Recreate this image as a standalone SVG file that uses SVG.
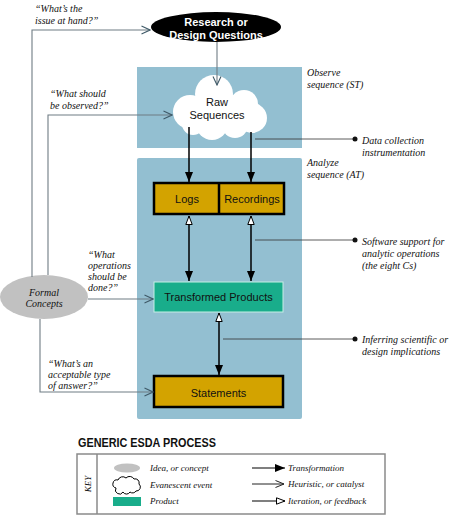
<svg xmlns="http://www.w3.org/2000/svg" width="452" height="519" viewBox="0 0 452 519">
<style>
.it{font-family:"Liberation Serif","Times New Roman",serif;font-style:italic;font-size:10px;fill:#111}
.lg{font-family:"Liberation Serif","Times New Roman",serif;font-style:italic;font-size:9px;fill:#111}
.sn{font-family:"Liberation Sans",Arial,sans-serif;font-size:11px;fill:#111;text-anchor:middle}
.wb{font-family:"Liberation Sans",Arial,sans-serif;font-size:11px;font-weight:bold;fill:#fff;text-anchor:middle}
.panel{fill:#93bfd1}
.gold{fill:#d3a300;stroke:#000;stroke-width:2.5}
.ctl{fill:none;stroke:#6f7c84;stroke-width:1.1}
.blk{fill:none;stroke:#000;stroke-width:1.5}
.ptr{fill:none;stroke:#333;stroke-width:0.8}
</style>
<defs>
<marker id="filled" viewBox="0 0 10 10" refX="10" refY="5" markerWidth="10" markerHeight="10" markerUnits="userSpaceOnUse" orient="auto-start-reverse"><path d="M0,1 L10,5 L0,9 z" fill="#000"/></marker>
<marker id="hollow" viewBox="0 0 10 10" refX="9.5" refY="5" markerWidth="10" markerHeight="10" markerUnits="userSpaceOnUse" orient="auto-start-reverse"><path d="M1,1.8 L9.5,5 L1,8.2 z" fill="#fff" stroke="#000" stroke-width="1"/></marker>
<marker id="chev" viewBox="0 0 10 10" refX="9" refY="5" markerWidth="10" markerHeight="10" markerUnits="userSpaceOnUse" orient="auto"><path d="M0.5,1 L9,5 L0.5,9" fill="none" stroke="#3f5a68" stroke-width="1.1"/></marker>
<marker id="chevK" viewBox="0 0 10 10" refX="9" refY="5" markerWidth="10" markerHeight="10" markerUnits="userSpaceOnUse" orient="auto"><path d="M0.5,1.5 L9,5 L0.5,8.5" fill="none" stroke="#222" stroke-width="1"/></marker>
</defs>
<rect width="452" height="519" fill="#fff"/>
<!-- panels -->
<rect id="observe-panel" class="panel" x="137" y="67" width="165" height="81"/>
<rect id="analyze-panel" class="panel" x="137" y="158" width="165" height="261" rx="2"/>
<!-- side labels -->
<g id="labels">
<text class="it" x="35" y="12">“What’s the</text>
<text class="it" x="35" y="24">issue at hand?”</text>
<text class="it" x="50" y="97">“What should</text>
<text class="it" x="50" y="109">be observed?”</text>
<text class="it" x="307" y="76">Observe</text>
<text class="it" x="307" y="88">sequence (ST)</text>
<text class="it" x="307" y="166">Analyze</text>
<text class="it" x="307" y="178">sequence (AT)</text>
<text class="it" x="362" y="144">Data collection</text>
<text class="it" x="362" y="156">instrumentation</text>
<text class="it" x="362" y="245">Software support for</text>
<text class="it" x="362" y="257">analytic operations</text>
<text class="it" x="362" y="269">(the eight Cs)</text>
<text class="it" x="362" y="343">Inferring scientific or</text>
<text class="it" x="362" y="355">design implications</text>
<text class="it" x="88" y="258">“What</text>
<text class="it" x="88" y="269">operations</text>
<text class="it" x="88" y="280">should be</text>
<text class="it" x="88" y="291">done?”</text>
<text class="it" x="48" y="367">“What’s an</text>
<text class="it" x="48" y="378">acceptable type</text>
<text class="it" x="48" y="389">of answer?”</text>
</g>
<!-- nodes -->
<g id="research">
<ellipse cx="216" cy="27" rx="65" ry="15" fill="#000"/>
<text class="wb" x="216" y="26">Research or</text>
<text class="wb" x="216" y="38.5">Design Questions</text>
</g>
<g id="raw-sequences" fill="#fff">
<circle cx="214" cy="94" r="19"/>
<circle cx="190" cy="112" r="17"/>
<circle cx="244" cy="104" r="14"/>
<circle cx="252" cy="118" r="15"/>
<circle cx="212" cy="124" r="16"/>
<circle cx="193" cy="124" r="11"/>
<circle cx="235" cy="125" r="13"/>
<ellipse cx="222" cy="112" rx="30" ry="18"/>
<text class="sn" x="217" y="106">Raw</text>
<text class="sn" x="217" y="119">Sequences</text>
</g>
<g id="logs-recordings">
<rect class="gold" x="154" y="183" width="130" height="31"/>
<line x1="219" y1="183" x2="219" y2="214" stroke="#000" stroke-width="2.5"/>
<text class="sn" x="187" y="203">Logs</text>
<text class="sn" x="252" y="203">Recordings</text>
</g>
<g id="transformed">
<rect x="154" y="282" width="129" height="30" fill="#19ad8b" stroke="#c6efe6" stroke-width="1"/>
<text class="sn" x="218.5" y="300.5">Transformed Products</text>
</g>
<g id="statements">
<rect class="gold" x="154" y="376" width="129" height="31"/>
<text class="sn" x="218.5" y="397">Statements</text>
</g>
<g id="formal-concepts">
<ellipse cx="44" cy="297" rx="44" ry="22" fill="#c1c1c1"/>
<text class="it" x="44" y="296" text-anchor="middle">Formal</text>
<text class="it" x="44" y="307" text-anchor="middle">Concepts</text>
</g>
<!-- connectors -->
<g id="connectors">
<path class="ctl" d="M217,42 V85" marker-end="url(#chev)"/>
<path class="ctl" d="M32,277 V30 H150" marker-end="url(#chev)"/>
<path class="ctl" d="M48,275 V115 H172" marker-end="url(#chev)"/>
<path class="ctl" d="M88,299 H153" marker-end="url(#chev)"/>
<path class="ctl" d="M40,319 V392 H153" marker-end="url(#chev)"/>
<path class="blk" d="M189,127 V182" marker-end="url(#filled)"/>
<path class="blk" d="M251,132 V182" marker-end="url(#filled)"/>
<path class="blk" d="M189,216 V281" marker-start="url(#hollow)" marker-end="url(#filled)"/>
<path class="blk" d="M251,216 V281" marker-start="url(#hollow)" marker-end="url(#filled)"/>
<path class="blk" d="M219,313 V375" marker-start="url(#hollow)" marker-end="url(#filled)"/>
<path class="ptr" d="M255,139 H355"/>
<circle cx="355" cy="139" r="2.5" fill="#111"/>
<path class="ptr" d="M255,240 H355"/>
<circle cx="355" cy="240" r="2.5" fill="#111"/>
<path class="ptr" d="M223,339 H355"/>
<circle cx="355" cy="339" r="2.5" fill="#111"/>
</g>
<!-- key -->
<g id="key">
<text x="78" y="447" font-family="'Liberation Sans',Arial,sans-serif" font-weight="bold" font-size="12" fill="#111" textLength="138" lengthAdjust="spacingAndGlyphs">GENERIC ESDA PROCESS</text>
<rect x="77" y="454" width="308" height="60" fill="#fff" stroke="#8a8a8a" stroke-width="1.5"/>
<line x1="97" y1="454" x2="97" y2="514" stroke="#8a8a8a" stroke-width="1.5"/>
<text class="lg" transform="translate(91,484) rotate(-90)" text-anchor="middle">KEY</text>
<ellipse cx="127" cy="468" rx="13" ry="4.5" fill="#c1c1c1"/>
<path d="M116,488 a4,4 0 0 1 2,-8 a5,5 0 0 1 8,-2 a5,5 0 0 1 8,1 a4,4 0 0 1 5,5 a4,4 0 0 1 -3,7 a4,4 0 0 1 -6,1 a4,4 0 0 1 -7,0 a4,4 0 0 1 -7,-4 z" fill="#fff" stroke="#000" stroke-width="1"/>
<rect x="113" y="497" width="28" height="9" fill="#19ad8b"/>
<text class="lg" x="150" y="471">Idea, or concept</text>
<text class="lg" x="150" y="488">Evanescent event</text>
<text class="lg" x="150" y="504">Product</text>
<path d="M252,468 H285" stroke="#000" stroke-width="1.2" marker-end="url(#filled)"/>
<path d="M252,484 H284" stroke="#222" stroke-width="1" marker-end="url(#chevK)"/>
<path d="M252,501 H285" stroke="#000" stroke-width="1.2" marker-end="url(#hollow)"/>
<text class="lg" x="288" y="471">Transformation</text>
<text class="lg" x="288" y="487">Heuristic, or catalyst</text>
<text class="lg" x="288" y="504">Iteration, or feedback</text>
</g>
</svg>
